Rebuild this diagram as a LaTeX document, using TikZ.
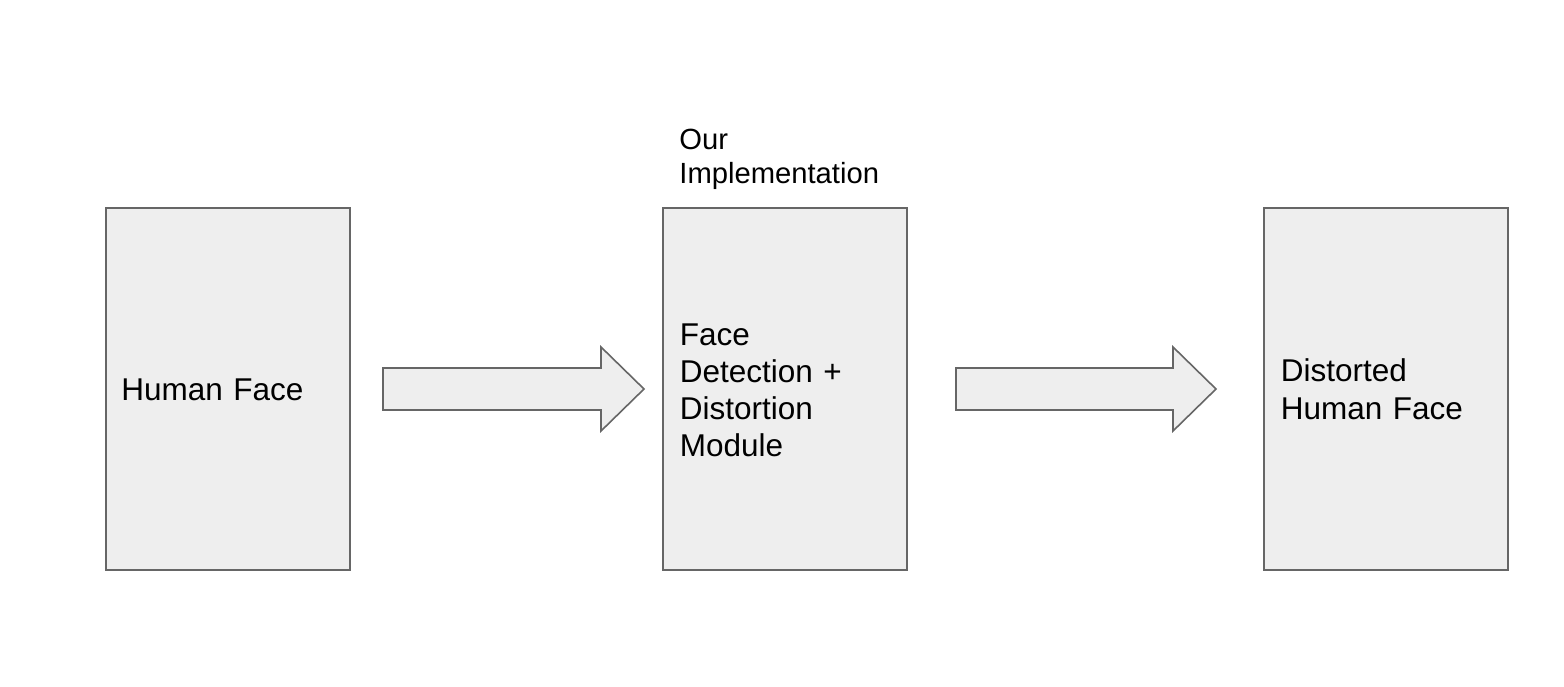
\documentclass[tikz,border=0pt]{standalone}
\usepackage{fontspec}
\setmainfont{Liberation Sans}
\definecolor{boxfill}{HTML}{EEEEEE}
\definecolor{boxline}{HTML}{666666}
\tikzset{
  blockbox/.style={draw=boxline, fill=boxfill, line width=0.8pt, inner sep=0pt,
    minimum width=122pt, minimum height=181pt, outer sep=0pt},
  blockarrow/.style={draw=boxline, fill=boxfill, line width=0.8pt, line join=miter},
  bigtext/.style={inner sep=0pt, anchor=base west, text width=150pt, align=left,
    font=\fontsize{15.75pt}{18.65pt}\selectfont},
  smalltext/.style={inner sep=0pt, anchor=base west, text width=150pt, align=left,
    font=\fontsize{14.6pt}{17pt}\selectfont},
}
\begin{document}
\begin{tikzpicture}[x=0.5pt, y=-0.5pt]
\useasboundingbox (0,0) rectangle (1564,686);
\fill[white] (0,0) rectangle (1564,686);
% boxes
\node[blockbox] (box1) at (228,389) {};
\node[blockbox] (box2) at (785,389) {};
\node[blockbox] (box3) at (1386,389) {};
% block arrows
\draw[blockarrow] (383,368) -- (601,368) -- (601,347) -- (644,389) -- (601,431) -- (601,410) -- (383,410) -- cycle;
\draw[blockarrow] (956,368) -- (1173,368) -- (1173,347) -- (1216,389) -- (1173,431) -- (1173,410) -- (956,410) -- cycle;
% texts
\node[bigtext] (t1) at (121,400) {Human Face};
\node[bigtext] (t2) at (679.5,345) {Face\\Detection +\\Distortion\\Module};
\node[bigtext] (t3) at (1280.5,381.7) {Distorted\\Human Face};
\node[smalltext] (t4) at (679,149) {Our\\Implementation};
\end{tikzpicture}
\end{document}
